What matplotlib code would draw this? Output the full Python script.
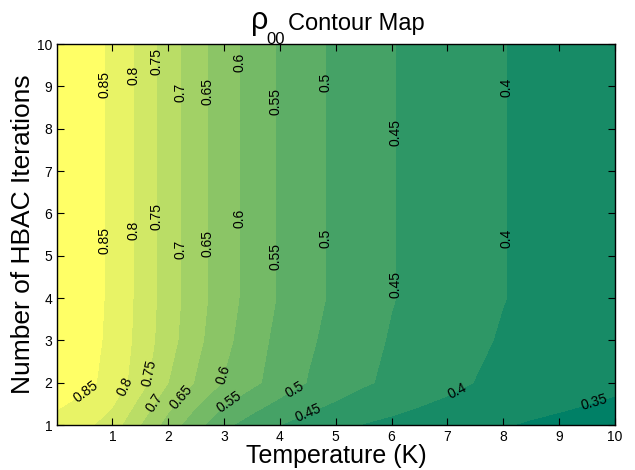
import numpy as np
import matplotlib
matplotlib.use('Agg')
import matplotlib.pyplot as plt

plt.rcParams['font.family'] = ['Liberation Sans', 'DejaVu Sans']

# grid
temperature = [0.01, 0.5, 1.0, 1.5, 2.0, 2.5, 3.0, 3.5, 4.0, 4.5, 5.0,
               5.5, 6.0, 6.5, 7.0, 7.5, 8.0, 8.5, 9.0, 9.5, 10.0]
iterations = [1, 2, 3, 4, 5, 6, 7, 8, 9, 10]

rho_n1 = [0.833, 0.813, 0.775, 0.700, 0.629, 0.567, 0.511, 0.478, 0.450, 0.432, 0.414,
          0.398, 0.389, 0.380, 0.371, 0.362, 0.353, 0.345, 0.339, 0.333, 0.328]
rho_n2 = [0.880, 0.862, 0.834, 0.770, 0.700, 0.645, 0.596, 0.561, 0.528, 0.498, 0.477,
          0.456, 0.440, 0.426, 0.413, 0.399, 0.392, 0.384, 0.376, 0.368, 0.360]
rho_n3 = [0.888, 0.867, 0.840, 0.782, 0.720, 0.663, 0.614, 0.571, 0.536, 0.507, 0.485,
          0.464, 0.446, 0.433, 0.420, 0.407, 0.396, 0.389, 0.382, 0.374, 0.367]
# iterations 4..10 give the same profile
rho_upper = [0.890, 0.867, 0.843, 0.785, 0.725, 0.670, 0.622, 0.581, 0.545, 0.516, 0.491,
             0.471, 0.452, 0.439, 0.426, 0.414, 0.401, 0.393, 0.386, 0.378, 0.372]

levels = [0.35, 0.4, 0.45, 0.5, 0.55, 0.6, 0.65, 0.7, 0.75, 0.8, 0.85]

# where the labels sit (x, y)
label_spots = [(0.85, 9.04), (1.37, 9.27), (1.82, 9.58), (2.21, 8.85), (2.7, 8.87),
               (3.24, 9.56), (3.92, 8.64), (4.78, 9.1), (6.04, 7.9), (8.06, 8.97),
               (0.85, 5.37), (1.37, 5.59), (1.8, 5.92), (2.2, 5.16), (2.7, 5.28),
               (3.24, 5.87), (3.9, 4.97), (4.78, 5.42), (6.0, 4.33), (8.06, 5.42),
               (0.47, 1.87), (1.22, 1.9), (1.71, 2.23), (1.73, 1.54), (2.24, 1.66),
               (3.04, 2.18), (3.11, 1.52), (4.25, 1.87), (4.5, 1.31), (7.16, 1.87),
               (9.64, 1.52)]

Z = np.vstack([rho_n1, rho_n2, rho_n3] + [rho_upper] * (len(iterations) - 3))
T, N = np.meshgrid(temperature, iterations)

fig = plt.figure(figsize=(6.35, 4.70), dpi=100)
ax = fig.add_axes([0.0898, 0.0957, 0.8787, 0.8106])

fill_levels = [Z.min() - 0.01] + levels + [Z.max() + 0.01]
colors = plt.cm.summer(np.linspace(0, 1, len(fill_levels) - 1))
ax.contourf(T, N, Z, levels=fill_levels, colors=colors, antialiased=False)
cs = ax.contour(T, N, Z, levels=levels, colors='k', linewidths=0)
labels = ax.clabel(cs, levels, fmt='%g', fontsize=10, colors='k', inline=False,
                   manual=label_spots)
# keep vertical labels reading bottom to top like the original
for t in labels:
    r = ((t.get_rotation() + 90) % 180) - 90
    if r <= -75:
        r += 180
    t.set_rotation(r)

ax.set_xlim(0.01, 10)
ax.set_ylim(1, 10)
ax.set_xticks(range(1, 11))
ax.set_yticks(range(1, 11))
ax.tick_params(direction='in', top=True, right=True, labelsize=10, length=5, width=0.8)
for s in ax.spines.values():
    s.set_linewidth(1.0)

ax.set_xlabel('Temperature (K)', fontsize=18, labelpad=0)
ax.set_ylabel('Number of HBAC Iterations', fontsize=19, labelpad=1)

# title: big rho with subscript 00, then the words
fig.text(251 / 635, 1 - 29 / 470, 'ρ', fontsize=22, ha='left', va='baseline')
fig.text(266 / 635, 1 - 44 / 470, '00', fontsize=12, ha='left', va='baseline')
fig.text(288 / 635, 1 - 30 / 470, 'Contour Map', fontsize=17, ha='left', va='baseline')

fig.savefig('out.png', dpi=100)
